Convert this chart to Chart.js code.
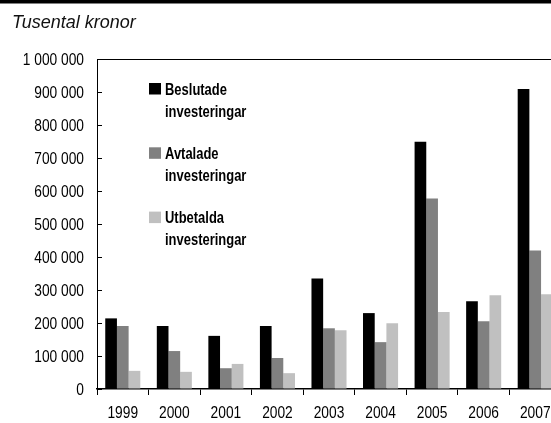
<!DOCTYPE html>
<html>
<head>
<meta charset="utf-8">
<script src="https://cdn.jsdelivr.net/npm/chart.js@4.4.0/dist/chart.umd.min.js"></script>
<style>
  body { margin: 0; background: #fff; overflow: hidden; }
</style>
</head>
<body>
<canvas id="grafica" width="566" height="423"></canvas>
<script>
  // Data (tusental kronor)
  const years = ['1999', '2000', '2001', '2002', '2003', '2004', '2005', '2006', '2007'];
  const beslutade = [214000, 191000, 161000, 191000, 335000, 230000, 749000, 266000, 909000];
  const avtalade = [191000, 115000, 63000, 94000, 184000, 142000, 577000, 205000, 420000];
  const utbetalda = [55000, 52000, 76000, 48000, 178000, 199000, 233000, 284000, 287000];
  const seriesNames = [['Beslutade', 'investeringar'], ['Avtalade', 'investeringar'], ['Utbetalda', 'investeringar']];

  const sansFam = '"Liberation Sans", Arial, sans-serif';
  const squeeze = 0.81; // the original uses a condensed face

  function fmt(v) {
    return String(v).replace(/\B(?=(\d{3})+(?!\d))/g, ' ');
  }

  // write condensed text by scaling x
  function narrowText(ctx, txt, x, y, align) {
    ctx.save();
    ctx.textAlign = align;
    ctx.scale(squeeze, 1);
    ctx.fillText(txt, x / squeeze, y);
    ctx.restore();
  }

  // extra drawing: top rule, title, tick labels, inward y ticks, legend
  const extras = {
    id: 'extras',
    afterDraw(chart) {
      const ctx = chart.ctx;
      const area = chart.chartArea;
      const x = chart.scales.x;
      const y = chart.scales.y;
      ctx.save();
      ctx.fillStyle = '#000';
      ctx.fillRect(0, 0, chart.width, 3.5);

      // top line of plot
      ctx.strokeStyle = '#000';
      ctx.lineWidth = 1;
      ctx.beginPath();
      ctx.moveTo(area.left, Math.round(area.top) + 0.5);
      ctx.lineTo(chart.width, Math.round(area.top) + 0.5);
      ctx.stroke();

      // inward ticks + y labels
      ctx.font = '17px ' + sansFam;
      ctx.textBaseline = 'middle';
      y.ticks.forEach(t => {
        const py = Math.round(y.getPixelForValue(t.value)) + 0.5;
        ctx.beginPath();
        ctx.moveTo(area.left, py);
        ctx.lineTo(area.left + 5, py);
        ctx.stroke();
        narrowText(ctx, fmt(t.value), 84, py + 1, 'right');
      });

      // x labels
      x.ticks.forEach((t, i) => {
        narrowText(ctx, x.getLabelForValue(t.value), x.getPixelForTick(i), 413, 'center');
      });

      // title
      ctx.font = 'italic 18px ' + sansFam;
      ctx.textBaseline = 'alphabetic';
      ctx.textAlign = 'left';
      ctx.fillStyle = '#111';
      ctx.fillText('Tusental kronor', 12, 28);

      // legend
      ctx.font = 'bold 16px ' + sansFam;
      chart.data.datasets.forEach((ds, i) => {
        const top = 83 + i * 64.3;
        ctx.fillStyle = ds.backgroundColor;
        ctx.fillRect(149, top, 12, 11.5);
        ctx.fillStyle = '#000';
        seriesNames[i].forEach((l, j) => narrowText(ctx, l, 165, top + 11.5 + j * 22, 'left'));
      });
      ctx.restore();
    }
  };

  const ctx = document.getElementById('grafica').getContext('2d');
  new Chart(ctx, {
    type: 'bar',
    data: {
      labels: years,
      datasets: [
        { label: 'Beslutade investeringar', data: beslutade, backgroundColor: '#000000' },
        { label: 'Avtalade investeringar', data: avtalade, backgroundColor: '#808080' },
        { label: 'Utbetalda investeringar', data: utbetalda, backgroundColor: '#c0c0c0' }
      ]
    },
    options: {
      responsive: false,
      animation: false,
      layout: { padding: { top: 59, right: 5, left: 0, bottom: 0 } },
      datasets: { bar: { categoryPercentage: 0.68, barPercentage: 1.0 } },
      plugins: {
        legend: { display: false },
        tooltip: { enabled: false },
        title: { display: false }
      },
      scales: {
        x: {
          offset: true,
          grid: { offset: true, drawOnChartArea: false, drawTicks: true, tickLength: 6, color: '#000' },
          border: { color: '#000', width: 1.5 },
          ticks: { display: false },
          afterFit: s => { s.height = 34; }
        },
        y: {
          min: 0,
          max: 1000000,
          grid: { drawOnChartArea: false, drawTicks: false },
          border: { color: '#000', width: 1 },
          ticks: { display: false, stepSize: 100000 },
          afterFit: s => { s.width = 97; }
        }
      }
    },
    plugins: [extras]
  });
</script>
</body>
</html>
